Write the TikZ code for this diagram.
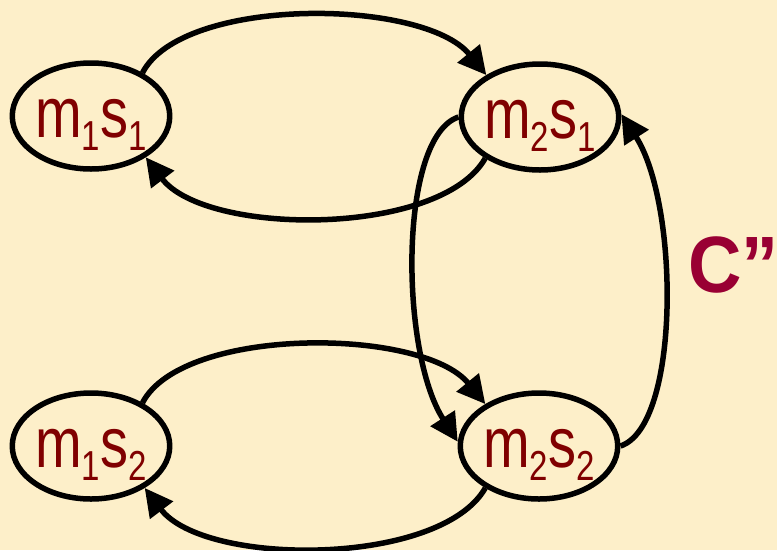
\documentclass[tikz,border=0pt]{standalone}
\usepackage{fontspec}
\setmainfont{Liberation Sans}
\usepackage{graphicx}
\usetikzlibrary{arrows.meta,shapes.geometric}
\definecolor{bg}{HTML}{FDEFC9}
\definecolor{txt}{HTML}{800000}
\definecolor{lbl}{HTML}{990033}
\newcommand{\msstate}[2]{\scalebox{1}[1.27]{\fontsize{56}{56}\selectfont m\raisebox{-11pt}{\fontsize{33}{33}\selectfont #1}s\raisebox{-11pt}{\fontsize{33}{33}\selectfont #2}}}
\begin{document}
\begin{tikzpicture}[x=1pt,y=-1pt,
  stnode/.style={ellipse, draw=black, line width=5.5pt, minimum width=151pt, minimum height=106pt, inner sep=0pt, text=txt, text height=45pt, text depth=3pt},
  arr/.style={line width=5.5pt, -{Triangle[length=28pt,width=28pt]}}]
\fill[bg] (0,0) rectangle (777,550);
\useasboundingbox (0,0) rectangle (777,550);
\node[stnode] (a) at (91,116) {\msstate{1}{1}};
\node[stnode] (b) at (540,117) {\msstate{2}{1}};
\node[stnode] (c) at (91,446) {\msstate{1}{2}};
\node[stnode] (d) at (539,446) {\msstate{2}{2}};
\node[text=lbl, anchor=base west, inner sep=0pt] (lab) at (688,292) {\scalebox{1}[1.08]{\fontsize{74}{74}\selectfont\bfseries C”}};
\draw[arr] (a.40) .. controls +(40,-77) and +(-63,-77) .. (b.142);
\draw[arr] (b.217) .. controls +(-45,79) and +(60,79) .. (a.323);
\draw[arr] (b.180) .. controls +(-60,20) and +(-58,-90) .. (d.177);
\draw[arr] (d.0) .. controls +(60,-20) and +(58,90) .. (b.2);
\draw[arr] (c.40) .. controls +(40,-77) and +(-63,-77) .. (d.142);
\draw[arr] (d.218) .. controls +(-45,79) and +(60,79) .. (c.322);
\end{tikzpicture}
\end{document}
